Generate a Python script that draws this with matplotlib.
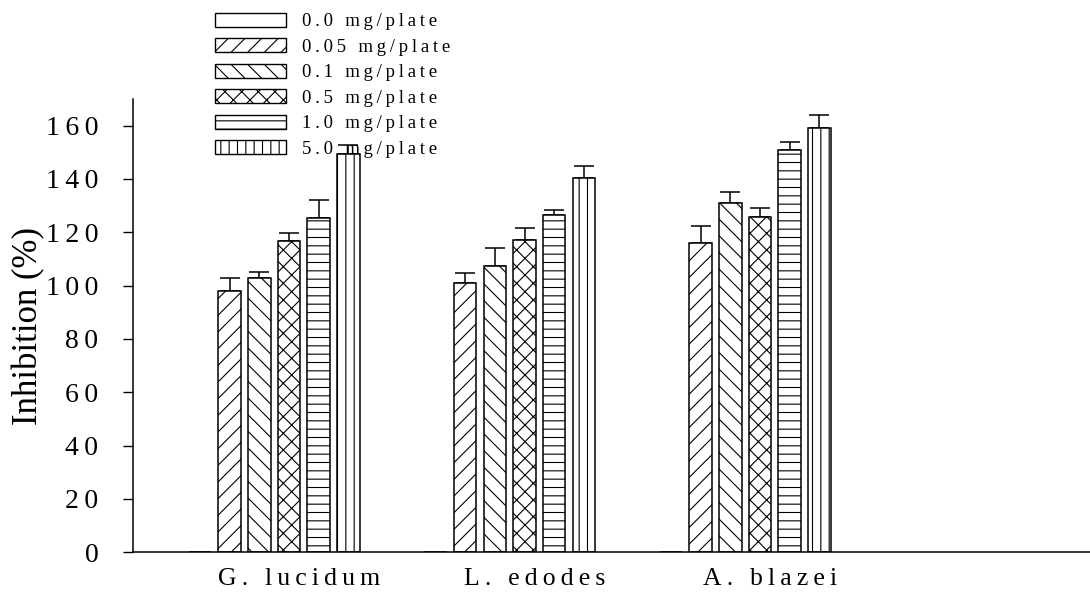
import matplotlib
matplotlib.use("Agg")
import matplotlib.pyplot as plt
from matplotlib.patches import Patch
import numpy as np

plt.rcParams["font.family"] = ["Liberation Serif", "DejaVu Serif"]
plt.rcParams["hatch.linewidth"] = 0.8

# data
species = ["G. lucidum", "L. edodes", "A. blazei"]
doses = ["0.0 mg/plate", "0.05 mg/plate", "0.1 mg/plate",
         "0.5 mg/plate", "1.0 mg/plate", "5.0 mg/plate"]
hatches = ["", "//", "\\\\", "xx", "--", "||"]

inh_00 = [0, 0, 0]
inh_005 = [98.1, 100.9, 116.1]
inh_01 = [102.7, 107.3, 131.1]
inh_05 = [116.7, 117.1, 125.6]
inh_10 = [125.2, 126.4, 150.8]
inh_50 = [149.2, 140.5, 159.2]

err_00 = [0, 0, 0]
err_005 = [4.9, 3.9, 6.2]
err_01 = [2.5, 6.8, 3.9]
err_05 = [3.1, 4.6, 3.5]
err_10 = [6.9, 2.1, 3.0]
err_50 = [3.6, 4.3, 4.7]

yticks = [0, 20, 40, 60, 80, 100, 120, 140, 160]

values = [inh_00, inh_005, inh_01, inh_05, inh_10, inh_50]
errors = [err_00, err_005, err_01, err_05, err_10, err_50]


def spaced(s, gap="\u2009"):
    """Mimic the wide letter spacing of the original figure."""
    return gap.join(s)


STEP = 0.126       # distance between neighbouring bars (group spacing = 1)
WIDTH = 0.0955

fig = plt.figure(figsize=(10.9, 6.01), dpi=100)
ax = fig.add_axes([133 / 1090, 1 - 552.3 / 601, (1090 - 133) / 1090, (552.3 - 99) / 601])

groups = np.arange(len(species))
for k, (vals, errs, h) in enumerate(zip(values, errors, hatches)):
    x = groups + (k - 3) * STEP
    ax.bar(x, vals, width=WIDTH, facecolor="white", edgecolor="black",
           linewidth=1.1, hatch=h, zorder=2)
    if any(vals):
        ax.errorbar(x, vals, yerr=[np.zeros(len(errs)), errs], fmt="none",
                    ecolor="black", elinewidth=1.1, capsize=7.2, capthick=1.1,
                    zorder=1)

ax.set_xlim(-0.6624, 3.401)
ax.set_ylim(0, 170)
ax.set_yticks(yticks)
ax.set_yticklabels([spaced(str(t)) for t in yticks], fontsize=20)
ax.set_xticks(groups + 0.35 * STEP)
ax.set_xticklabels([spaced(s) for s in species], fontsize=18.5)
ax.tick_params(axis="y", direction="out", length=7, width=1, pad=18)
ax.tick_params(axis="x", length=0, pad=11)
for side in ("top", "right"):
    ax.spines[side].set_visible(False)
for side in ("left", "bottom"):
    ax.spines[side].set_linewidth(1.1)

ax.set_ylabel("Inhibition (%)", fontsize=25)
ax.yaxis.set_label_coords(-0.092, 0.5)

handles = [Patch(facecolor="white", edgecolor="black", linewidth=1.0, hatch=h)
           for h in hatches]
fig.legend(handles, [spaced(d) for d in doses], loc="upper left",
           bbox_to_anchor=(215 / 1090, 1 - 13 / 601), frameon=False,
           fontsize=13.5, handlelength=3.79, handleheight=0.75,
           labelspacing=0.43, handletextpad=0.85, borderpad=0,
           borderaxespad=0)

fig.savefig("out.png", dpi=100)
